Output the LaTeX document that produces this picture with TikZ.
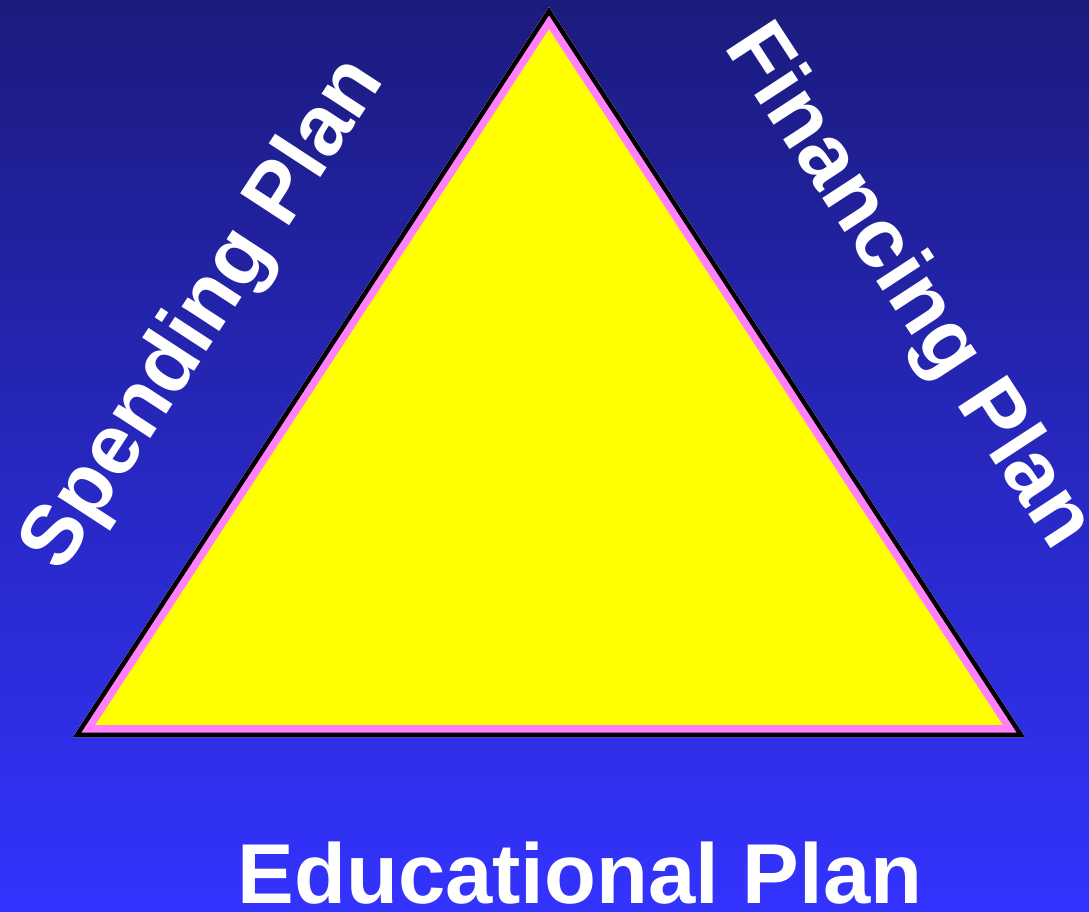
\documentclass[tikz,border=0pt]{standalone}
\usepackage{fontspec}
\setmainfont{Liberation Sans}
\definecolor{bgtop}{RGB}{27,27,126}
\definecolor{bgbot}{RGB}{51,51,255}
\definecolor{tripink}{RGB}{255,128,255}
\definecolor{triyellow}{RGB}{255,255,0}
\tikzset{
  planlabel/.style={text=white, font=\fontsize{85}{85}\selectfont\bfseries, inner sep=0pt},
}
\begin{document}
\begin{tikzpicture}[x=1pt,y=-1pt]
  \useasboundingbox (0,0) rectangle (1089,911);
  \shade[top color=bgtop, bottom color=bgbot] (0,0) rectangle (1089,911);
  \coordinate (A) at (549,7);
  \coordinate (B) at (73,737);
  \coordinate (C) at (1025,737);
  \fill[triyellow] (A) -- (B) -- (C) -- cycle;
  \begin{scope}
    \clip (A) -- (B) -- (C) -- cycle;
    \draw[tripink, line width=24pt, line join=miter] (A) -- (B) -- (C) -- cycle;
    \draw[black, line width=9pt, line join=miter] (A) -- (B) -- (C) -- cycle;
  \end{scope}
  \node[planlabel, rotate=56.86] (spend) at (205,315) {Spending Plan};
  \node[planlabel, rotate=-56.86] (fin) at (907,288) {Financing Plan};
  \node[planlabel, anchor=base] (edu) at (580,903) {Educational Plan};
\end{tikzpicture}
\end{document}
